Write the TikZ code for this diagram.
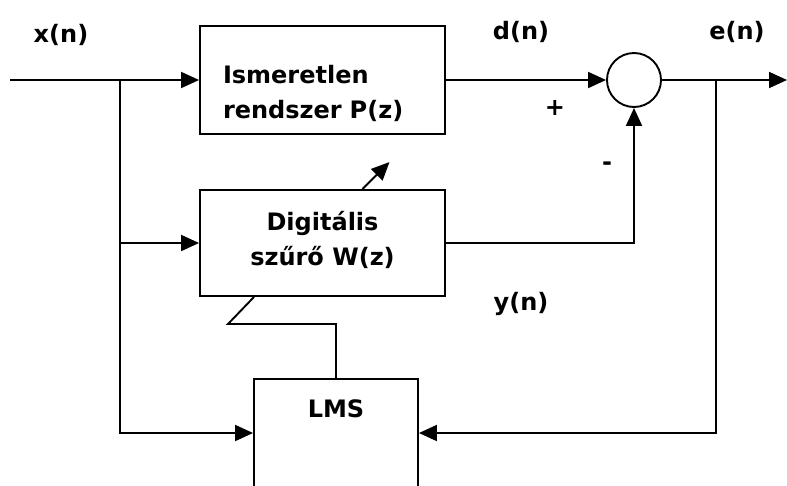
\documentclass[tikz,border=0pt]{standalone}
\usepackage{fontspec}
\setmainfont{DejaVu Sans}
\usetikzlibrary{arrows.meta}

\begin{document}
\begin{tikzpicture}[x=1pt, y=-1pt, line width=1.9pt,
        >={Triangle[length=18pt,width=16pt]},
        blokk/.style={draw, rectangle, inner sep=0pt},
        felirat/.style={font=\fontsize{24}{35}\selectfont\bfseries, inner sep=0pt}]
                \useasboundingbox (0,0) rectangle (787,485);
                \clip (0,0) rectangle (787,485);

                \def\ag{120}
                \def\ah{716}

                % blokkok
                \node[blokk, felirat, minimum width=245pt, minimum height=108pt,
                      text width=199pt, align=left, text depth=11pt] (P) at (322.5,80) {Ismeretlen\\rendszer P(z)};
                \node[blokk, felirat, minimum width=245pt, minimum height=106pt,
                      align=center, text depth=9pt] (W) at (322.5,243) {Digitális\\szűrő W(z)};
                \node[blokk, minimum width=164pt, minimum height=108pt] (LMS) at (336,433) {};
                \node[felirat] (lmsfelirat) at (336,409) {LMS};
                \node[draw, circle, minimum size=54pt, inner sep=0pt] (S) at (634,80) {};

                \coordinate (be) at (10,80);
                \coordinate (ki) at (787,80);
                \coordinate (A1) at (\ag,80);
                \coordinate (A2) at (\ah,80);
                \coordinate (T) at (228,324);

                % jelutak
                \draw[->] (be) -- (P);
                \draw[->] (\ag,243) -- (W);
                \draw[->] (A1) |- (LMS.west);
                \draw[->] (P) -- (S);
                \draw[->] (W.east) -| (S.south);
                \draw[->] (S) -- (ki);
                \draw[->] (A2) |- (LMS.east);
                \draw[->] ([xshift=40pt]W.north) -- ++(27,-27);
                \draw (LMS.north) |- (T) -- ([xshift=-68.5pt]W.south);

                % feliratok
                \node[felirat] (x) at (61,35) {x(n)};
                \node[felirat] (d) at (521,32) {d(n)};
                \node[felirat] (e) at (737,32) {e(n)};
                \node[felirat] (y) at (521,304) {y(n)};
                \node[felirat] (plusz) at (555,108) {+};
                \node[felirat] (minusz) at (607,166) {-};
            \end{tikzpicture}
\end{document}
